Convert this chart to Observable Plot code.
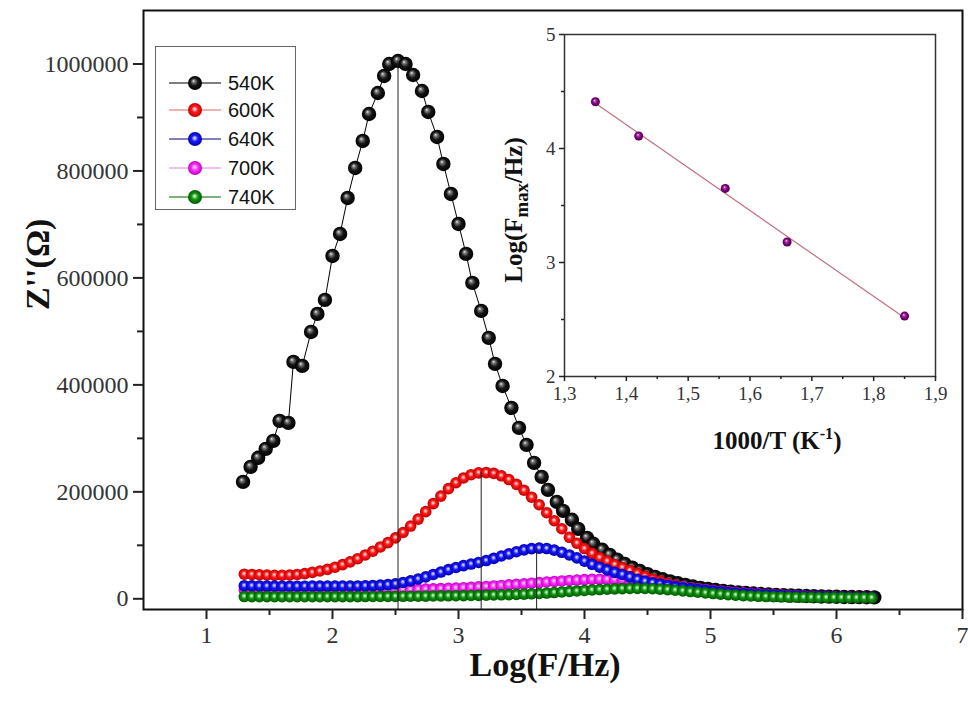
<!DOCTYPE html>
<html><head><meta charset="utf-8">
<script src="https://cdn.jsdelivr.net/npm/d3@7"></script>
<script src="https://cdn.jsdelivr.net/npm/@observablehq/plot@0.6"></script>
<style>
html,body{margin:0;padding:0;background:#fff;}
#wrap{position:relative;width:968px;height:708px;overflow:hidden;background:#fff;}
#main{position:absolute;left:0;top:0;}
#inset{position:absolute;left:500px;top:10px;}
.ttl{position:absolute;font-family:"Liberation Serif","Times New Roman",serif;font-weight:bold;color:#111;white-space:nowrap;transform:translate(-50%,-50%);}
#legend{position:absolute;left:155px;top:46px;width:141px;height:164px;border:1.5px solid #666;box-sizing:border-box;background:#fff;font-family:"Liberation Sans",Arial,sans-serif;font-size:20px;color:#111;}
.lrow{position:absolute;left:0;height:24px;}
.lrow svg{position:absolute;left:10px;top:2px;}
.lrow span{position:absolute;left:72px;top:0;line-height:24px;}
</style></head>
<body>
<svg width="0" height="0" style="position:absolute">
<defs>
<radialGradient id="g540" cx="50%" cy="50%" r="50%" fx="38%" fy="34%">
<stop offset="0%" stop-color="#e6e6e6"/><stop offset="22%" stop-color="#777"/><stop offset="55%" stop-color="#151515"/><stop offset="100%" stop-color="#000"/>
</radialGradient>
<radialGradient id="g600" cx="50%" cy="50%" r="50%" fx="47%" fy="42%">
<stop offset="0%" stop-color="#fff2f2"/><stop offset="20%" stop-color="#ff9a9a"/><stop offset="45%" stop-color="#ff1a1a"/><stop offset="100%" stop-color="#c00000"/>
</radialGradient>
<radialGradient id="g640" cx="50%" cy="50%" r="50%" fx="47%" fy="42%">
<stop offset="0%" stop-color="#f2f2ff"/><stop offset="20%" stop-color="#9a9aff"/><stop offset="45%" stop-color="#1a1aff"/><stop offset="100%" stop-color="#0000aa"/>
</radialGradient>
<radialGradient id="g700" cx="50%" cy="50%" r="50%" fx="47%" fy="42%">
<stop offset="0%" stop-color="#fff2ff"/><stop offset="20%" stop-color="#ffa0ff"/><stop offset="45%" stop-color="#ff30ff"/><stop offset="100%" stop-color="#c000c0"/>
</radialGradient>
<radialGradient id="g740" cx="50%" cy="50%" r="50%" fx="47%" fy="42%">
<stop offset="0%" stop-color="#e8ffe8"/><stop offset="20%" stop-color="#88d888"/><stop offset="45%" stop-color="#149614"/><stop offset="100%" stop-color="#005800"/>
</radialGradient>
<radialGradient id="gIns" cx="50%" cy="50%" r="50%" fx="40%" fy="35%">
<stop offset="0%" stop-color="#f4d8f4"/><stop offset="25%" stop-color="#b040b0"/><stop offset="60%" stop-color="#800080"/><stop offset="100%" stop-color="#4a004a"/>
</radialGradient>
</defs>
</svg>
<div id="wrap">
<div id="main"></div>
<div id="inset"></div>
<div id="legend"></div>
<div class="ttl" id="insY" style="left:516px;top:210px;font-size:25px;transform:translate(-50%,-50%) rotate(-90deg);">Log(F<sub style="font-size:0.75em">max</sub>/Hz)</div>
<div class="ttl" id="insX" style="left:777px;top:440px;font-size:25px;">1000/T (K<sup style="font-size:0.65em">-1</sup>)</div>
</div>
<script>
// ---------- data ----------
const temps = ["540K", "600K", "640K", "700K", "740K"];

// log(F/Hz) sampling of the 540K run
const logF540 = [
  1.29,1.35,1.41,1.47,1.53,1.58,1.65,1.69,1.76,1.83,1.88,1.94,
  2.00,2.06,2.12,2.18,2.24,2.29,2.36,2.41,2.45,2.52,2.58,2.64,
  2.71,2.76,2.83,2.88,2.94,3.00,3.06,3.11,3.18,3.24,3.29,3.35,
  3.42,3.48,3.54,3.60,3.66,3.71,3.78,3.83,3.90,3.95,4.02,4.07,
  4.14,4.20,4.26,4.32,4.38,4.44,4.50,4.56,4.62,4.68,4.74,4.80,
  4.86,4.92,4.98,5.04,5.10,5.16,5.22,5.28,5.34,5.40,5.46,5.52,
  5.58,5.64,5.70,5.76,5.82,5.88,5.94,6.00,6.06,6.12,6.18,6.24,
  6.30];
const z540 = [
  218700,246700,263600,280400,295300,332700,329000,443000,435500,499000,532700,558900,
  641100,682200,749500,805600,856100,906500,945800,977600,1000000,1005600,1000000,979400,
  949500,910300,863600,813100,757000,700900,644900,590700,538300,487900,439300,398000,
  357000,319600,287900,254200,228000,203700,181300,164500,147700,130800,114000,102800,
  91600,82000,73000,65000,58000,52000,46000,41000,36500,32500,29000,26000,
  23000,20500,18500,16500,14800,13300,12000,10800,9800,8900,8100,7400,
  6800,6200,5700,5200,4800,4400,4100,3800,3500,3300,3100,2900,
  2700];

// common log(F/Hz) sampling of the other runs
const logF = [
  1.30,1.36,1.42,1.48,1.54,1.60,1.66,1.72,1.78,1.84,1.90,1.96,
  2.02,2.08,2.14,2.20,2.26,2.32,2.38,2.44,2.50,2.56,2.62,2.68,
  2.74,2.80,2.86,2.92,2.98,3.04,3.10,3.16,3.22,3.28,3.34,3.40,
  3.46,3.52,3.58,3.64,3.70,3.76,3.82,3.88,3.94,4.00,4.06,4.12,
  4.18,4.24,4.30,4.36,4.42,4.48,4.54,4.60,4.66,4.72,4.78,4.84,
  4.90,4.96,5.02,5.08,5.14,5.20,5.26,5.32,5.38,5.44,5.50,5.56,
  5.62,5.68,5.74,5.80,5.86,5.92,5.98,6.04,6.10,6.16,6.22,6.28];
const z600 = [
  46000,45500,45000,44500,44000,44000,44500,45500,47000,49500,52000,55000,
  59000,64000,69000,75000,82000,89000,97000,105000,114000,124000,136000,149000,
  163000,178000,192000,206000,217000,226000,232000,235500,236000,234500,230000,223000,
  214000,203000,190000,176000,161000,146000,131000,115000,104000,94000,85000,77000,
  70500,64000,58500,53000,47500,42000,37000,33000,29000,25500,22500,20000,
  17800,16000,14500,13200,12000,11000,10000,9200,8400,7700,7100,6500,
  6000,5500,5100,4700,4400,4100,3800,3500,3300,3100,2900,2700];
const z640 = [
  24500,24200,24000,23800,23700,23600,23600,23600,23600,23700,23700,23800,
  23800,23900,23900,24000,24300,24800,25500,26500,28000,30500,33500,37000,
  41000,45500,50000,54500,58500,62000,65000,68000,71500,75500,80000,84000,
  88000,91500,93800,94800,94000,91000,87000,82000,76500,70500,64500,59000,
  54000,49500,45500,41000,36500,33000,30000,27500,25000,22800,20800,19000,
  17300,15800,14400,13100,11900,10800,9800,8900,8100,7400,6800,6200,
  5700,5200,4800,4400,4100,3800,3500,3300,3100,2900,2700,2600];
const z700 = [
  16500,16300,16100,16000,15900,15800,15800,15800,15800,15800,15900,15900,
  16000,16000,16100,16200,16300,16400,16500,16700,16900,17100,17400,17700,
  18100,18500,19000,19500,20100,20800,21500,22300,23100,24000,25000,26000,
  27000,28100,29200,30300,31400,32400,33400,34300,35100,35800,36300,36600,
  36500,36000,35100,33900,32500,30900,29200,27400,25600,23800,22000,20300,
  18700,17200,15800,14500,13300,12200,11200,10200,9300,8500,7800,7100,
  6500,5900,5400,4900,4500,4100,3800,3500,3200,3000,2800,2600];
const z740 = [
  4200,4100,4000,4000,3900,3900,3900,3900,3900,3900,3900,4000,
  4000,4000,4100,4100,4200,4300,4400,4500,4600,4700,4800,4900,
  5000,5200,5400,5600,5800,6000,6200,6500,6800,7100,7500,7900,
  8300,8800,9400,10000,10800,11700,12700,13700,14700,15600,16500,17300,
  18000,18600,19100,19400,19500,19300,18800,18100,17200,16100,14900,13600,
  12300,11000,9800,8700,7700,6800,6000,5300,4700,4200,3800,3500,
  3200,3000,2800,2600,2500,2400,2300,2200,2100,2000,2000,1900];

// peak markers (vertical guide lines)
const peakLogF = [2.52, 3.18, 3.62];
const peakZ = [1005600, 236000, 94800];

// inset: log(Fmax) vs 1000/T
const invT = [1.35, 1.42, 1.56, 1.66, 1.85];
const logFmax = [4.41, 4.11, 3.65, 3.18, 2.53];

// axes / ticks
const xDomain = [0.5, 7];
const yDomain = [-20000, 1100000];
const xTicks = [1, 2, 3, 4, 5, 6, 7];
const xMinor = [1.5, 2.5, 3.5, 4.5, 5.5, 6.5];
const yTicks = [0, 200000, 400000, 600000, 800000, 1000000];
const yMinor = [100000, 300000, 500000, 700000, 900000];
const insXTicks = [1.3, 1.4, 1.5, 1.6, 1.7, 1.8, 1.9];
const insXMinor = [1.35, 1.45, 1.55, 1.65, 1.75, 1.85];
const insYTicks = [2, 3, 4, 5];
const insYMinor = [2.5, 3.5, 4.5];

// styles per series
const lineColors = ["#000000", "#e06464", "#000080", "#e080e0", "#006400"];
const grads = ["g540", "g600", "g640", "g700", "g740"];
const radii = [7.2, 5.8, 5.8, 5.8, 5.8];
const drawOrder = [0, 1, 3, 2, 4]; // 540K, 600K, 700K, 640K, 740K (last on top)

// ---------- build ----------
const serif = "'Liberation Serif','Times New Roman',serif";
const xs = [logF540, logF, logF, logF, logF];
const ys = [z540, z600, z640, z700, z740];
const series = temps.map((t, k) => ys[k].map((v, i) => ({T: t, f: xs[k][i], z: v})));
const peaks = peakLogF.map((f, i) => ({f, z: peakZ[i]}));

const marks = [];
drawOrder.forEach(k => {
  const rows = series[k];
  marks.push(Plot.line(rows, {x: "f", y: "z", stroke: lineColors[k], strokeWidth: 1}));
  marks.push(Plot.dot(rows, {x: "f", y: "z", r: radii[k], fill: `url(#${grads[k]})`, stroke: "none"}));
});

const main = Plot.plot({
  width: 968, height: 708,
  marginLeft: 143, marginRight: 6, marginTop: 10, marginBottom: 99,
  style: {fontFamily: serif, background: "transparent", color: "#222", overflow: "visible"},
  x: {domain: xDomain, label: null},
  y: {domain: yDomain, label: null},
  marks: [
    ...marks,
    Plot.ruleX(peaks, {x: "f", y1: "z", y2: () => yDomain[0], stroke: "#222", strokeWidth: 1}),
    Plot.frame({stroke: "#111", strokeWidth: 2}),
    Plot.axisX(xTicks, {tickSize: 10, tickPadding: 6, strokeWidth: 2, fontSize: 24, fill: "#333", tickFormat: d => String(d), label: null}),
    Plot.axisX(xMinor, {tickSize: 6, strokeWidth: 2, tickFormat: () => "", label: null}),
    Plot.axisY(yTicks, {tickSize: 10, tickPadding: 5, strokeWidth: 2, fontSize: 24, fill: "#333", tickFormat: d3.format("d"), label: null}),
    Plot.axisY(yMinor, {tickSize: 6, strokeWidth: 2, tickFormat: () => "", label: null}),
    Plot.text(["Z''(Ω)"], {frameAnchor: "left", dx: -105, rotate: -90, fontSize: 34, fontWeight: "bold", fill: "#111"}),
    Plot.text(["Log(F/Hz)"], {frameAnchor: "bottom", dy: 66, dx: -8, fontSize: 34, fontWeight: "bold", fill: "#111"})
  ]
});
document.getElementById("main").appendChild(main);

const insData = invT.map((t, i) => ({t, f: logFmax[i]}));
const inset = Plot.plot({
  width: 460, height: 460,
  marginLeft: 64, marginRight: 25, marginTop: 24, marginBottom: 94,
  style: {fontFamily: serif, background: "transparent", color: "#222", overflow: "visible"},
  x: {domain: [1.3, 1.9], label: null},
  y: {domain: [2, 5], label: null},
  marks: [
    Plot.frame({stroke: "#333", strokeWidth: 1.5}),
    Plot.axisX(insXTicks, {tickSize: 5, tickPadding: 5, strokeWidth: 1.5, fontSize: 19, fill: "#333", tickFormat: d => d.toFixed(1).replace(".", ","), label: null}),
    Plot.axisX(insXMinor, {tickSize: 3, strokeWidth: 1.5, tickFormat: () => "", label: null}),
    Plot.axisY(insYTicks, {tickSize: 5, tickPadding: 4, strokeWidth: 1.5, fontSize: 19, fill: "#333", tickFormat: d3.format("d"), label: null}),
    Plot.axisY(insYMinor, {tickSize: 3, strokeWidth: 1.5, tickFormat: () => "", label: null}),
    Plot.linearRegressionY(insData, {x: "t", y: "f", stroke: "#c07080", strokeWidth: 1.2, ci: 0}),
    Plot.dot(insData, {x: "t", y: "f", r: 4.5, fill: "url(#gIns)", stroke: "none"})
  ]
});
document.getElementById("inset").appendChild(inset);

// legend
const legend = d3.select("#legend");
const rowY = [24, 51, 80, 109, 138];
temps.forEach((t, k) => {
  const row = legend.append("div").attr("class", "lrow").style("top", rowY[k] + "px").style("width", "138px");
  const s = row.append("svg").attr("width", 60).attr("height", 20);
  s.append("line").attr("x1", 3).attr("x2", 55).attr("y1", 10).attr("y2", 10).attr("stroke", lineColors[k]).attr("stroke-width", 1.2);
  s.append("circle").attr("cx", 29).attr("cy", 10).attr("r", 7).attr("fill", `url(#${grads[k]})`);
  row.append("span").text(t);
});
</script>
</body></html>
